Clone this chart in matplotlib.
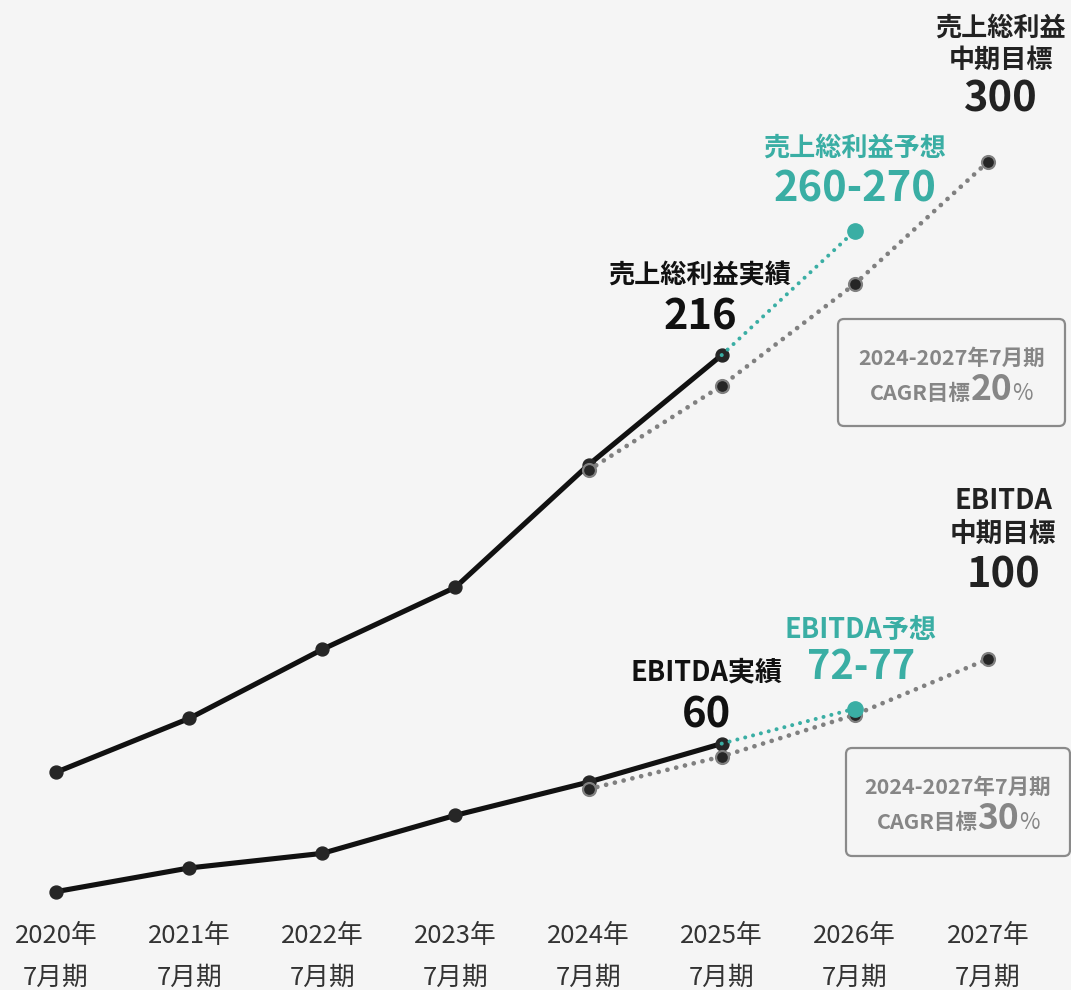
import matplotlib
matplotlib.use("Agg")
import matplotlib.pyplot as plt
from matplotlib.patches import FancyBboxPatch
from matplotlib.transforms import IdentityTransform, blended_transform_factory

# ── Data ──────────────────────────────────────────────────────────────────────

years = ["2020年", "2021年", "2022年", "2023年", "2024年", "2025年", "2026年", "2027年"]
period = "7月期"

# 売上総利益 (actual 2020-2025, mid-term target path 2024-2027, forecast 2025-2026)
gross_actual = [34.7, 58.1, 88.1, 115.1, 168.3, 216]
gross_target = [166.0, 202.7, 246.9, 300]
gross_forecast = [216, 270]

# EBITDA
ebitda_actual = [-10.0, 1.2, 8.1, 26.1, 41.8, 60]
ebitda_target = [38.5, 53.9, 73.6, 100]
ebitda_forecast = [60, 76.5]

x_actual = list(range(0, 6))
x_target = list(range(4, 8))
x_forecast = [5, 6]

# ── Style ─────────────────────────────────────────────────────────────────────

W, H = 1071, 990
BG = "#f5f5f5"
INK = "#111111"
DOT = "#262626"
GRAY = "#808080"
TEAL = "#3aaea4"
LABEL = "#222222"
BOX_TXT = "#868686"
FONT = ["Noto Sans CJK JP", "DejaVu Sans"]

fig = plt.figure(figsize=(W / 100, H / 100), dpi=100, facecolor=BG)
ax = fig.add_axes([0, 0, 1, 1])
ax2 = ax.twinx()
for a in (ax, ax2):
    a.axis("off")
ax.set_xlim(-0.4206, 7.6235)
ax.set_ylim(-59.9, 370.3)     # 売上総利益 scale
ax2.set_ylim(-56.5, 411.6)    # EBITDA scale


def draw_series(a, actual, target, forecast):
    a.plot(x_actual, actual, color=INK, lw=3.7, solid_capstyle="round",
           solid_joinstyle="round", zorder=3)
    a.plot(x_actual, actual, ls="none", marker="o", ms=9.3, mfc=DOT, mec=DOT, zorder=3)
    a.plot(x_target, target, color=GRAY, lw=3.4, ls=(0, (0.01, 1.9)),
           dash_capstyle="round", zorder=4)
    a.plot(x_target, target, ls="none", marker="o", ms=9.3, mfc=DOT, mec=GRAY,
           mew=1.6, zorder=5)
    a.plot(x_forecast, forecast, color=TEAL, lw=2.9, ls=(0, (0.01, 2.0)),
           dash_capstyle="round", zorder=6)
    a.plot(x_forecast[1:], forecast[1:], ls="none", marker="o", ms=11,
           mfc=TEAL, mec=TEAL, zorder=7)


draw_series(ax, gross_actual, gross_target, gross_forecast)
draw_series(ax2, ebitda_actual, ebitda_target, ebitda_forecast)

# ── Text ──────────────────────────────────────────────────────────────────────

PX = IdentityTransform()


def label(px, py, s, size, color, weight="bold", ha="center"):
    return fig.text(px, H - py, s, transform=PX, ha=ha, va="baseline",
                    fontsize=size, color=color, fontweight=weight, family=FONT)


# x-axis period labels
xt = blended_transform_factory(ax.transData, PX)
for i, yr in enumerate(years):
    ax.text(i, H - 943, yr, transform=xt, ha="center", va="baseline",
            fontsize=18.5, color="#333333", family=FONT)
    ax.text(i, H - 985, period, transform=xt, ha="center", va="baseline",
            fontsize=18.5, color="#333333", family=FONT)

# 売上総利益
label(700, 283, "売上総利益実績", 18.8, INK)
label(700, 329, "216", 30, INK)
label(855, 156, "売上総利益予想", 18.8, TEAL)
label(855, 201.5, "260-270", 30, TEAL)
label(1001, 36, "売上総利益", 18.8, LABEL)
label(1001, 68, "中期目標", 18.8, LABEL)
label(1001, 111.5, "300", 30, LABEL)

# EBITDA
label(707, 680, "EBITDA実績", 19.5, INK)
label(707, 727.5, "60", 30, INK)
label(861, 637.5, "EBITDA予想", 19.5, TEAL)
label(861, 679, "72-77", 28.5, TEAL)
label(1003, 509, "EBITDA", 19.5, LABEL)
label(1003, 541.5, "中期目標", 19.2, LABEL)
label(1003, 587, "100", 30, LABEL)


def cagr_box(x0, y0, x1, y1, rate):
    box = FancyBboxPatch((x0, H - y1), x1 - x0, y1 - y0,
                         boxstyle="round,pad=0,rounding_size=6",
                         transform=PX, facecolor=BG, edgecolor="#8a8a8a",
                         lw=1.6, zorder=2)
    fig.add_artist(box)
    cx = (x0 + x1) / 2
    label(cx, y0 + 45.5, "2024-2027年7月期", 15.5, BOX_TXT)

    # second line: small caption, large rate, small percent sign
    parts = [("CAGR目標", 15.5, "bold"), (rate, 25.5, "bold"), ("%", 16, "normal")]
    texts = [label(0, y0 + 81, s, sz, BOX_TXT, weight=w, ha="left")
             for s, sz, w in parts]
    r = fig.canvas.get_renderer()
    widths = [t.get_window_extent(r).width for t in texts]
    x = cx - sum(widths) / 2
    for t, w in zip(texts, widths):
        t.set_x(x)
        x += w


cagr_box(838, 319, 1065, 426, "20")
cagr_box(846, 748, 1070, 856, "30")

fig.savefig("out.png", dpi=100, facecolor=BG)
